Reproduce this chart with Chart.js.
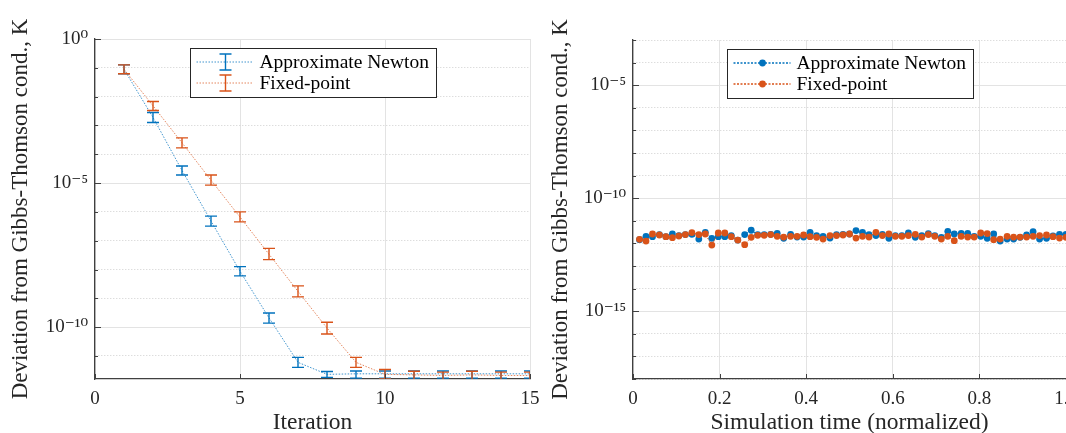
<!DOCTYPE html>
<html>
<head>
<meta charset="utf-8">
<script src="https://cdn.jsdelivr.net/npm/chart.js@4.4.0/dist/chart.umd.min.js"></script>
<style>
  html, body { margin: 0; padding: 0; background: #fff; overflow: hidden; width: 1066px; height: 433px; }
  canvas { position: absolute; top: 0; }
  #iterChart { left: 0; }
  #timeChart { left: 545px; }
</style>
</head>
<body>
<canvas id="iterChart" width="545" height="433"></canvas>
<canvas id="timeChart" width="555" height="433"></canvas>
<script>
// iterations of the nonlinear solve, mean deviation with spread
const iterations = [1, 2, 3, 4, 5, 6, 7, 8, 9, 10, 11, 12, 13, 14, 15];
const newtonDev  = [8.9e-2, 1.9e-3, 2.75e-5, 4.8e-7, 8.7e-9, 2.1e-10, 6.0e-12, 2.3e-12, 2.4e-12, 2.4e-12, 2.4e-12, 2.4e-12, 2.4e-12, 2.4e-12, 2.4e-12];
const newtonLow  = [6.2e-2, 1.26e-3, 1.9e-5, 3.2e-7, 6.0e-9, 1.38e-10, 4.0e-12, 1.8e-12, 1.7e-12, 1.7e-12, 1.7e-12, 1.7e-12, 1.7e-12, 1.7e-12, 1.7e-12];
const newtonHigh = [0.126, 2.8e-3, 3.9e-5, 7.1e-7, 1.26e-8, 3.1e-10, 8.9e-12, 2.9e-12, 3.0e-12, 3.0e-12, 3.0e-12, 3.0e-12, 3.0e-12, 3.0e-12, 3.0e-12];
const fixedDev   = [8.9e-2, 4.8e-3, 2.5e-4, 1.26e-5, 6.6e-7, 3.4e-8, 1.74e-9, 9.3e-11, 6.0e-12, 2.3e-12, 2.2e-12, 2.1e-12, 2.2e-12, 2.1e-12, 2.1e-12];
const fixedLow   = [6.2e-2, 3.3e-3, 1.66e-4, 8.5e-6, 4.5e-7, 2.2e-8, 1.12e-9, 5.8e-11, 4.0e-12, 1.6e-12, 1.5e-12, 1.4e-12, 1.5e-12, 1.4e-12, 1.4e-12];
const fixedHigh  = [0.126, 6.8e-3, 3.7e-4, 1.9e-5, 1.0e-6, 5.4e-8, 2.7e-9, 1.48e-10, 8.9e-12, 3.4e-12, 2.95e-12, 2.75e-12, 2.95e-12, 2.75e-12, 2.75e-12];

// deviation at each time step over the run
const simTime = [0.015, 0.030, 0.045, 0.061, 0.076, 0.091, 0.106, 0.121, 0.136, 0.152,
                 0.167, 0.182, 0.197, 0.212, 0.227, 0.242, 0.258, 0.273, 0.288, 0.303,
                 0.318, 0.333, 0.348, 0.364, 0.379, 0.394, 0.409, 0.424, 0.439, 0.455,
                 0.470, 0.485, 0.500, 0.515, 0.530, 0.545, 0.561, 0.576, 0.591, 0.606,
                 0.621, 0.636, 0.652, 0.667, 0.682, 0.697, 0.712, 0.727, 0.742, 0.758,
                 0.773, 0.788, 0.803, 0.818, 0.833, 0.848, 0.864, 0.879, 0.894, 0.909,
                 0.924, 0.939, 0.955, 0.970, 0.985, 1.000];
const newtonGT = [1.46e-12, 2.05e-12, 1.99e-12, 2.45e-12, 1.99e-12, 2.60e-12, 2.21e-12, 2.45e-12, 2.52e-12, 1.56e-12,
                  3.10e-12, 1.67e-12, 1.99e-12, 1.99e-12, 2.21e-12, 1.40e-12, 2.45e-12, 3.81e-12, 2.45e-12, 2.45e-12,
                  2.52e-12, 2.80e-12, 1.67e-12, 2.52e-12, 1.91e-12, 1.91e-12, 3.10e-12, 2.21e-12, 2.05e-12, 1.72e-12,
                  2.45e-12, 2.52e-12, 2.60e-12, 3.69e-12, 3.10e-12, 2.45e-12, 2.21e-12, 2.52e-12, 1.67e-12, 2.21e-12,
                  2.21e-12, 2.88e-12, 1.85e-12, 2.21e-12, 2.71e-12, 2.21e-12, 1.85e-12, 3.43e-12, 2.60e-12, 2.80e-12,
                  2.80e-12, 2.05e-12, 2.05e-12, 1.67e-12, 2.60e-12, 1.27e-12, 1.56e-12, 1.56e-12, 1.85e-12, 2.35e-12,
                  3.33e-12, 1.56e-12, 1.67e-12, 2.12e-12, 2.52e-12, 2.52e-12];
const fixedGT  = [1.51e-12, 1.27e-12, 2.60e-12, 2.35e-12, 1.99e-12, 1.80e-12, 2.12e-12, 2.45e-12, 3.00e-12, 2.45e-12,
                  2.60e-12, 0.84e-12, 2.88e-12, 2.88e-12, 1.99e-12, 1.40e-12, 0.875e-12, 1.85e-12, 2.28e-12, 2.28e-12,
                  2.45e-12, 2.05e-12, 1.91e-12, 2.05e-12, 2.05e-12, 2.35e-12, 1.99e-12, 1.85e-12, 1.56e-12, 2.21e-12,
                  2.21e-12, 2.35e-12, 2.60e-12, 1.72e-12, 2.05e-12, 1.91e-12, 3.10e-12, 2.21e-12, 2.60e-12, 2.05e-12,
                  2.05e-12, 2.21e-12, 2.52e-12, 1.91e-12, 2.45e-12, 2.05e-12, 1.56e-12, 2.05e-12, 1.32e-12, 2.05e-12,
                  1.91e-12, 1.91e-12, 2.88e-12, 2.71e-12, 1.46e-12, 1.56e-12, 2.05e-12, 1.91e-12, 1.91e-12, 1.91e-12,
                  2.05e-12, 2.21e-12, 2.35e-12, 1.99e-12, 1.72e-12, 1.85e-12];

const seriesNames = ['Approximate Newton', 'Fixed-point'];
const yTitle = 'Deviation from Gibbs-Thomson cond., K';

const BLUE = '#0072BD';
const ORANGE = '#D95319';
const AXIS = '#404040';
const serif = "'Liberation Serif', 'DejaVu Serif', serif";

Chart.defaults.font.family = serif;
Chart.defaults.color = '#262626';

const supDigits = { '-': '\u207B', '0': '\u2070', '1': '\u00B9', '2': '\u00B2', '3': '\u00B3', '4': '\u2074',
                    '5': '\u2075', '6': '\u2076', '7': '\u2077', '8': '\u2078', '9': '\u2079' };

const expOf = v => Math.round(Math.log10(v));
const isMajor = v => expOf(v) % 5 === 0;

// one tick per decade, label only every fifth
function decadeTicks(scale) {
    const lo = Math.ceil(Math.log10(scale.min) - 1e-9);
    const hi = Math.floor(Math.log10(scale.max) + 1e-9);
    const t = [];
    for (let e = lo; e <= hi; e++) t.push({ value: Math.pow(10, e) });
    scale.ticks = t;
}
function decadeLabel(v) {
    if (!isMajor(v)) return '';
    return '10' + String(expOf(v)).split('').map(c => supDigits[c]).join('');
}

// matlab style ticks pointing into the axes
const inwardTicks = {
    id: 'inwardTicks',
    afterDraw(chart) {
        const { ctx, chartArea: a, scales: { x, y } } = chart;
        ctx.save();
        ctx.strokeStyle = AXIS;
        ctx.lineWidth = 1;
        ctx.beginPath();
        x.ticks.forEach(t => {
            const px = Math.round(x.getPixelForValue(t.value)) + 0.5;
            ctx.moveTo(px, a.bottom);
            ctx.lineTo(px, a.bottom - 5);
        });
        y.ticks.forEach(t => {
            const py = Math.round(y.getPixelForValue(t.value)) + 0.5;
            ctx.moveTo(a.left, py);
            ctx.lineTo(a.left + (isMajor(t.value) ? 6 : 3), py);
        });
        ctx.stroke();
        ctx.restore();
    }
};

const errorBars = {
    id: 'errorBars',
    afterDatasetsDraw(chart) {
        const { ctx, chartArea: a, scales: { x, y } } = chart;
        ctx.save();
        ctx.beginPath();
        ctx.rect(a.left, a.top, a.right - a.left, a.bottom - a.top);
        ctx.clip();
        chart.data.datasets.forEach(ds => {
            if (!ds.errLow) return;
            ctx.strokeStyle = ds.barColor;
            ctx.lineWidth = 1.4;
            ds.data.forEach((p, i) => {
                const px = x.getPixelForValue(p.x);
                const top = y.getPixelForValue(ds.errHigh[i]);
                const bot = y.getPixelForValue(ds.errLow[i]);
                ctx.beginPath();
                ctx.moveTo(px, top); ctx.lineTo(px, bot);
                ctx.moveTo(px - 6, top); ctx.lineTo(px + 6, top);
                ctx.moveTo(px - 6, bot); ctx.lineTo(px + 6, bot);
                ctx.stroke();
            });
        });
        ctx.restore();
    }
};

// boxed legend at the top centre of the axes
const boxLegend = {
    id: 'boxLegend',
    afterDraw(chart, args, opts) {
        const { ctx, chartArea: a } = chart;
        const items = chart.data.datasets;
        ctx.save();
        ctx.font = '19.5px ' + serif;
        const textW = Math.max(...items.map(d => ctx.measureText(d.label).width));
        const w = Math.round(69 + textW + 7), h = 49;
        const left = Math.round((a.left + a.right) / 2 - w / 2) + 0.5;
        const top = Math.round(a.top) + 9.5;
        ctx.fillStyle = '#fff';
        ctx.fillRect(left, top, w, h);
        ctx.strokeStyle = '#262626';
        ctx.lineWidth = 1;
        ctx.strokeRect(left, top, w, h);
        items.forEach((d, i) => {
            const cy = top + 13.5 + i * 21;
            const mx = left + 35;
            ctx.setLineDash(opts.dash);
            ctx.strokeStyle = d.borderColor;
            ctx.lineWidth = opts.lineWidth;
            ctx.beginPath();
            ctx.moveTo(left + 6, cy);
            ctx.lineTo(left + 63, cy);
            ctx.stroke();
            ctx.setLineDash([]);
            if (opts.marker === 'errorbar') {
                ctx.strokeStyle = d.barColor;
                ctx.lineWidth = 1.4;
                ctx.beginPath();
                ctx.moveTo(mx, cy - 8); ctx.lineTo(mx, cy + 8);
                ctx.moveTo(mx - 6, cy - 8); ctx.lineTo(mx + 6, cy - 8);
                ctx.moveTo(mx - 6, cy + 8); ctx.lineTo(mx + 6, cy + 8);
                ctx.stroke();
            } else {
                ctx.fillStyle = d.pointBackgroundColor;
                ctx.beginPath();
                ctx.arc(mx, cy, 3.4, 0, Math.PI * 2);
                ctx.fill();
            }
            ctx.fillStyle = '#000';
            ctx.textBaseline = 'middle';
            ctx.textAlign = 'left';
            ctx.fillText(d.label, left + 69, cy + 1);
        });
        ctx.restore();
    }
};

function logAxis(min, max, width, titlePad) {
    return {
        type: 'logarithmic',
        min: min,
        max: max,
        afterBuildTicks: decadeTicks,
        afterFit: s => { s.width = width; },
        ticks: { callback: decadeLabel, padding: 7, autoSkip: false, font: { size: 19 } },
        grid: {
            drawTicks: false,
            color: ctx => (ctx.tick && isMajor(ctx.tick.value)) ? '#e3e3e3' : '#cfcfcf'
        },
        border: {
            color: AXIS,
            width: 1.3,
            dash: ctx => (ctx.tick && !isMajor(ctx.tick.value)) ? [1, 2] : []
        },
        title: { display: true, text: yTitle, font: { size: 23 }, padding: { top: titlePad, bottom: 0 } }
    };
}

function linAxis(min, max, step, label) {
    return {
        type: 'linear',
        min: min,
        max: max,
        // fixed height, and let the end labels hang over the edges
        afterFit: s => { s.height = 54; s.paddingLeft = 0; s.paddingRight = 0; },
        ticks: { stepSize: step, padding: 9, maxRotation: 0, font: { size: 19 } },
        grid: { drawTicks: false, color: '#e3e3e3' },
        border: { color: AXIS, width: 1.3 },
        title: { display: true, text: label, font: { size: 23.5, lineHeight: 1 }, padding: { top: 0, bottom: -2 } }
    };
}

const toPoints = (xs, ys) => xs.map((v, i) => ({ x: v, y: ys[i] }));

new Chart(document.getElementById('iterChart'), {
    type: 'line',
    data: {
        datasets: [{
            label: seriesNames[0],
            data: toPoints(iterations, newtonDev),
            errLow: newtonLow,
            errHigh: newtonHigh,
            barColor: BLUE,
            borderColor: 'rgba(0,114,189,0.75)',
            borderWidth: 1,
            borderDash: [1.5, 1.5],
            pointRadius: 0,
            order: 1
        }, {
            label: seriesNames[1],
            data: toPoints(iterations, fixedDev),
            errLow: fixedLow,
            errHigh: fixedHigh,
            barColor: ORANGE,
            borderColor: 'rgba(217,83,25,0.7)',
            borderWidth: 1,
            borderDash: [1.5, 1.5],
            pointRadius: 0,
            order: 0
        }]
    },
    options: {
        responsive: false,
        animation: false,
        layout: { padding: { left: 0, right: 15, top: 39, bottom: 0 } },
        plugins: {
            legend: { display: false },
            tooltip: { enabled: false },
            boxLegend: { marker: 'errorbar', dash: [1.5, 1.5], lineWidth: 1 }
        },
        scales: {
            x: linAxis(0, 15, 5, 'Iteration'),
            y: logAxis(1.585e-12, 1, 95, 7)
        }
    },
    plugins: [errorBars, inwardTicks, boxLegend]
});

new Chart(document.getElementById('timeChart'), {
    type: 'line',
    data: {
        datasets: [{
            label: seriesNames[0],
            data: toPoints(simTime, newtonGT),
            borderColor: BLUE,
            pointBackgroundColor: BLUE,
            borderWidth: 1,
            borderDash: [1.5, 1.5],
            pointRadius: 3.4,
            pointBorderWidth: 0,
            order: 1
        }, {
            label: seriesNames[1],
            data: toPoints(simTime, fixedGT),
            borderColor: ORANGE,
            pointBackgroundColor: ORANGE,
            borderWidth: 1,
            borderDash: [1.5, 1.5],
            pointRadius: 3.4,
            pointBorderWidth: 0,
            order: 0
        }]
    },
    options: {
        responsive: false,
        animation: false,
        layout: { padding: { left: 0, right: 34, top: 40, bottom: 0 } },
        plugins: {
            legend: { display: false },
            tooltip: { enabled: false },
            boxLegend: { marker: 'dot', dash: [2, 1.5], lineWidth: 1.6 }
        },
        scales: {
            x: linAxis(0, 1, 0.2, 'Simulation time (normalized)'),
            y: logAxis(1e-18, 1e-3, 88, 2)
        }
    },
    plugins: [inwardTicks, boxLegend]
});
</script>
</body>
</html>
